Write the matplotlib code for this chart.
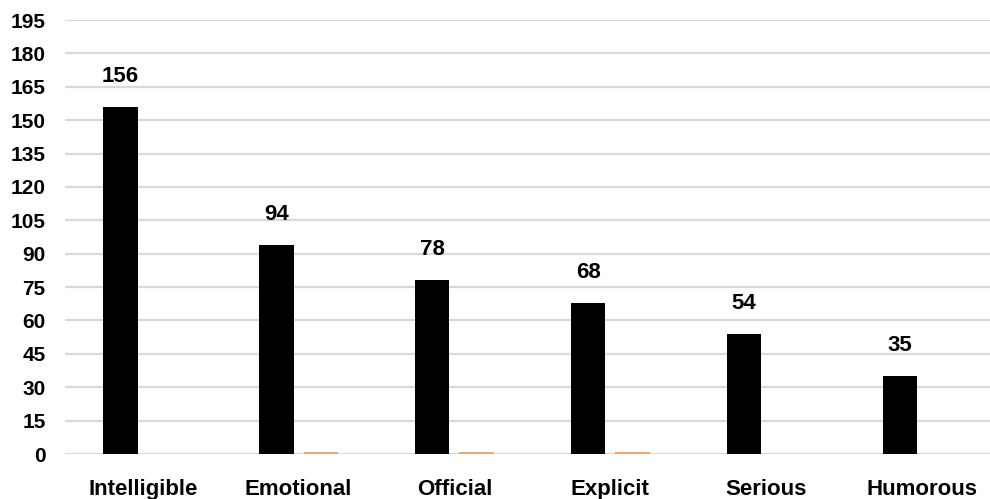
import numpy as np
import matplotlib.pyplot as plt

categories = ["Intelligible", "Emotional", "Official", "Explicit", "Serious", "Humorous"]
black_vals = [156, 94, 78, 68, 54, 35]
orange_vals = [0, 1, 1, 1, 0, 0]
yticks = list(range(0, 196, 15))

plt.rcParams['font.family'] = ['Liberation Sans', 'DejaVu Sans']
plt.rcParams['font.weight'] = 'bold'

fig = plt.figure(figsize=(9.9, 4.99), dpi=100)
ax = fig.add_axes([65 / 990, 1 - 454 / 499, 1 - 65 / 990, (454 - 20) / 499])

# one category = ~156 px
pitch = 155.9
x = np.arange(len(categories))
w = 34.4 / pitch
step = 44.4 / pitch

bars = ax.bar(x, black_vals, w, color='black', zorder=3)
ax.bar(x + step, orange_vals, w, color='#f4a46e', zorder=3)

for b, v in zip(bars, black_vals):
    ax.annotate(str(v), (b.get_x() + b.get_width() / 2, v),
                xytext=(0, 22), textcoords='offset points',
                ha='center', va='center', fontsize=16, fontweight='bold')

left = -(120.5 - 65) / pitch
ax.set_xlim(left, left + 925 / pitch)
ax.set_ylim(0, 195)
ax.set_yticks(yticks)
ax.set_xticks(x + step / 2)
ax.set_xticklabels(categories)
ax.grid(axis='y', color='#d9d9d9', linewidth=1.6, zorder=0)
ax.tick_params(axis='both', length=0, labelsize=15)
ax.tick_params(axis='x', pad=18, labelsize=16)
ax.tick_params(axis='y', pad=14)
for s in ax.spines.values():
    s.set_visible(False)

fig.savefig('out.png', dpi=100)
